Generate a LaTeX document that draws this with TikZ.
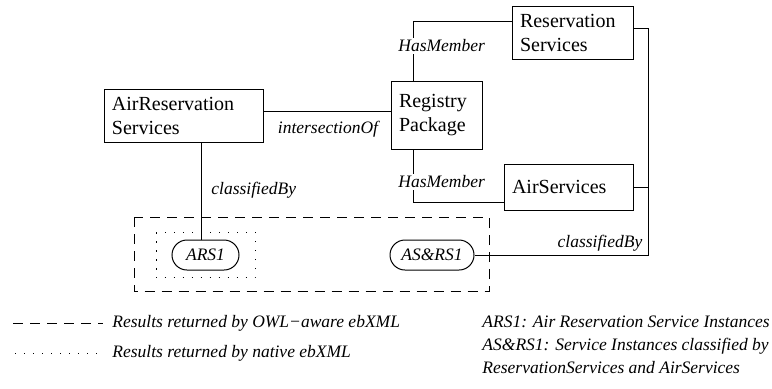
\documentclass[tikz,border=0pt]{standalone}
\usepackage{fontspec}
\setmainfont{Liberation Serif}
\tikzset{
  cls/.style={draw, line width=0.5pt, align=left, inner xsep=4pt, inner ysep=0pt,
    font=\fontsize{10}{12}\selectfont},
  inst/.style={draw, line width=0.5pt, rounded corners=7.5pt, minimum height=15pt,
    inner sep=0pt, font=\fontsize{8.75}{11}\selectfont\itshape},
  rel/.style={font=\fontsize{8.75}{11}\selectfont\itshape, inner sep=1pt},
  owl/.style={dash pattern=on 5pt off 3.5pt},
  native/.style={dash pattern=on 0.6pt off 3.9pt},
}
\begin{document}
\begin{tikzpicture}[x=0.5pt,y=-0.5pt,line width=0.45pt]
      \useasboundingbox (0,0) rectangle (772,388);
      \draw
        (183.5,115.5) node[cls, text width=71.5pt, minimum height=26.5pt] (air){AirReservation\\Services}
        (436.5,115) node[cls, text width=37.5pt, minimum height=34pt] (reg){Registry\\Package}
        (572.5,32.5) node[cls, text width=52.5pt, minimum height=26.5pt] (res){Reservation\\Services}
        (568.5,187) node[cls, text width=56.5pt, minimum height=23pt] (airsv){AirServices}
        (205.5,255) node[inst, minimum width=33.5pt] (ars){ARS1}
        (432,255) node[inst, minimum width=42pt] (asrs){AS\&RS1};
      % result sets
      \draw[owl] (134,217.3) rectangle (489,291.7);
      \draw[native] (156,232.3) rectangle (255,277.7);
      \begin{scope}[-]
        \draw ([yshift=1.9pt]air.east) -- ([yshift=1.9pt]air.east -| reg.west);
        \draw ([xshift=9.1pt]air.south) -- ([xshift=9.1pt]air.south |- ars.north);
        \draw ([xshift=-11.4pt]reg.north) |- ([yshift=5.4pt]res.west);
        \draw ([xshift=-11.4pt]reg.south) |- ([yshift=-7.6pt]airsv.west);
        \draw ([yshift=2.1pt]res.east) -- ++(15,0) coordinate (rc) |- (asrs.east);
        \draw (airsv.east) -- (airsv.east -| rc);
      \end{scope}
      \node[rel, anchor=north] (io) at (328,119) {intersectionOf};
      \node[rel, anchor=west] (cb1) at (209,190) {classifiedBy};
      \node[rel, fill=white] (hm1) at (441.7,46) {HasMember};
      \node[rel, fill=white] (hm2) at (441.7,181.7) {HasMember};
      \node[rel] (cb2) at (600,243.3) {classifiedBy};
      % legend
      \coordinate (d1) at (13,323);
      \coordinate (d2) at (103,323);
      \coordinate (p1) at (15,353);
      \coordinate (p2) at (100,353);
      \draw[owl] (d1) -- (d2);
      \draw[native] (p1) -- (p2);
      \node[rel, anchor=west] (lg1) at (110,323) {Results returned by OWL−aware ebXML};
      \node[rel, anchor=west] (lg2) at (110,353) {Results returned by native ebXML};
      \node[rel, anchor=west, align=left, font=\fontsize{8.75}{11.5}\selectfont\itshape] (key) at (480,345)
        {ARS1: Air Reservation Service Instances\\AS\&RS1: Service Instances classified by\\ReservationServices and AirServices};
    \end{tikzpicture}
\end{document}
